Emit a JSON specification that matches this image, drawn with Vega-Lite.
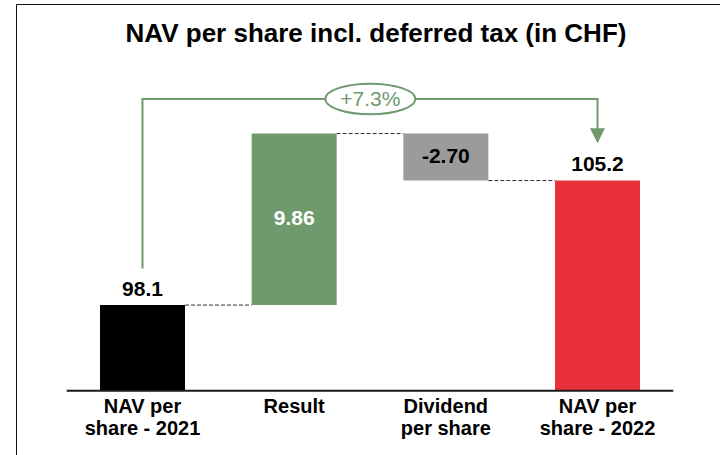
{
  "$schema": "https://vega.github.io/schema/vega-lite/v6.json",
  "width": 704,
  "height": 451,
  "autosize": {"type": "none"},
  "padding": {"left": 16, "top": 4, "right": 0, "bottom": 0},
  "background": "white",
  "title": {
    "text": "NAV per share incl. deferred tax (in CHF)",
    "font": "Liberation Sans",
    "fontSize": 26,
    "fontWeight": "bold",
    "color": "#000000",
    "anchor": "middle",
    "frame": "group",
    "orient": "top",
    "baseline": "alphabetic",
    "offset": -64,
    "dx": 8
  },
  "config": {
    "view": {"stroke": "#111111", "strokeWidth": 1},
    "text": {"font": "Liberation Sans"}
  },
  "datasets": {
    "bars": [
      {"cat": "NAV per share - 2021", "start": 93.18, "end": 98.1, "label": "98.1"},
      {"cat": "Result", "start": 98.1, "end": 107.96, "label": "9.86"},
      {"cat": "Dividend per share", "start": 107.96, "end": 105.26, "label": "-2.70"},
      {"cat": "NAV per share - 2022", "start": 93.18, "end": 105.26, "label": "105.2"}
    ],
    "connectors": [
      {"from": "NAV per share - 2021", "to": "Result", "level": 98.1},
      {"from": "Result", "to": "Dividend per share", "level": 107.96},
      {"from": "Dividend per share", "to": "NAV per share - 2022", "level": 105.26}
    ],
    "baseline": [
      {"a": "NAV per share - 2021", "b": "NAV per share - 2022", "v": 93.18}
    ],
    "bracket": [
      {"cat": "NAV per share - 2021", "v": 100.2, "i": 1},
      {"cat": "NAV per share - 2021", "v": 109.95, "i": 2},
      {"cat": "NAV per share - 2022", "v": 109.95, "i": 3},
      {"cat": "NAV per share - 2022", "v": 108.2, "i": 4}
    ],
    "arrowhead": [
      {"cat": "NAV per share - 2022", "v": 107.83}
    ],
    "growth": [
      {"cat": "Result", "v": 109.95, "label": "+7.3%"}
    ]
  },
  "layer": [
    {
      "data": {"name": "bars"},
      "mark": {"type": "bar"},
      "encoding": {
        "x": {
          "field": "cat",
          "type": "nominal",
          "sort": null,
          "scale": {
            "domain": ["NAV per share - 2021", "Result", "Dividend per share", "NAV per share - 2022"],
            "range": [0, 708],
            "paddingInner": 0.4396,
            "paddingOuter": 0.5538
          },
          "axis": {
            "orient": "bottom",
            "offset": -64.5,
            "title": null,
            "domain": false,
            "ticks": false,
            "grid": false,
            "labelAngle": 0,
            "labelFont": "Liberation Sans",
            "labelFontSize": 20,
            "labelFontWeight": "bold",
            "labelColor": "#000000",
            "labelBaseline": "top",
            "labelPadding": 6,
            "labelLineHeight": 22,
            "labelLimit": 200,
            "labelExpr": "datum.value == 'NAV per share - 2021' ? ['NAV per', 'share - 2021'] : datum.value == 'Dividend per share' ? ['Dividend', 'per share'] : datum.value == 'NAV per share - 2022' ? ['NAV per', 'share - 2022'] : datum.label"
          }
        },
        "y": {
          "field": "start",
          "type": "quantitative",
          "scale": {"domain": [89.48, 115.41], "nice": false, "zero": false},
          "axis": null
        },
        "y2": {"field": "end"},
        "color": {
          "field": "cat",
          "type": "nominal",
          "scale": {
            "domain": ["NAV per share - 2021", "Result", "Dividend per share", "NAV per share - 2022"],
            "range": ["#000000", "#6e9a6e", "#9b9b9b", "#e83038"]
          },
          "legend": null
        }
      }
    },
    {
      "data": {"name": "connectors"},
      "mark": {"type": "rule", "color": "#333333", "strokeWidth": 1, "strokeDash": [4, 2]},
      "encoding": {
        "x": {"field": "from", "type": "nominal", "bandPosition": 1},
        "x2": {"field": "to", "bandPosition": 0},
        "y": {"field": "level", "type": "quantitative"}
      }
    },
    {
      "data": {"name": "baseline"},
      "mark": {"type": "rule", "color": "#1a1a1a", "strokeWidth": 2},
      "encoding": {
        "x": {"field": "a", "type": "nominal", "bandPosition": -0.392},
        "x2": {"field": "b", "bandPosition": 1.392},
        "y": {"field": "v", "type": "quantitative"}
      }
    },
    {
      "data": {"name": "bracket"},
      "mark": {"type": "line", "color": "#6e9a6e", "strokeWidth": 2, "strokeJoin": "miter"},
      "encoding": {
        "x": {"field": "cat", "type": "nominal"},
        "y": {"field": "v", "type": "quantitative"},
        "order": {"field": "i", "type": "quantitative"}
      }
    },
    {
      "data": {"name": "arrowhead"},
      "mark": {"type": "point", "shape": "M-1,-1L1,-1L0,1Z", "filled": true, "color": "#6e9a6e", "opacity": 1, "size": 225},
      "encoding": {
        "x": {"field": "cat", "type": "nominal"},
        "y": {"field": "v", "type": "quantitative"}
      }
    },
    {
      "data": {"name": "growth"},
      "mark": {"type": "point", "shape": "M-1,0A1,0.34,0,1,0,1,0A1,0.34,0,1,0,-1,0Z", "filled": true, "fill": "#ffffff", "stroke": "#6e9a6e", "strokeWidth": 2, "opacity": 1, "size": 8100},
      "encoding": {
        "x": {"field": "cat", "type": "nominal", "bandPosition": 1.396},
        "y": {"field": "v", "type": "quantitative"}
      }
    },
    {
      "data": {"name": "growth"},
      "mark": {"type": "text", "color": "#6e9a6e", "fontSize": 21, "baseline": "middle", "align": "center", "dy": 1},
      "encoding": {
        "x": {"field": "cat", "type": "nominal", "bandPosition": 1.396},
        "y": {"field": "v", "type": "quantitative"},
        "text": {"field": "label"}
      }
    },
    {
      "data": {"name": "bars"},
      "transform": [{"filter": "datum.cat == 'NAV per share - 2021' || datum.cat == 'NAV per share - 2022'"}],
      "mark": {"type": "text", "color": "#000000", "fontSize": 21, "fontWeight": "bold", "baseline": "alphabetic", "align": "center", "dy": -9.5},
      "encoding": {
        "x": {"field": "cat", "type": "nominal"},
        "y": {"field": "end", "type": "quantitative"},
        "text": {"field": "label"}
      }
    },
    {
      "data": {"name": "bars"},
      "transform": [
        {"filter": "datum.cat == 'Result' || datum.cat == 'Dividend per share'"},
        {"calculate": "(datum.start + datum.end) / 2", "as": "mid"}
      ],
      "mark": {"type": "text", "fontSize": 21, "fontWeight": "bold", "baseline": "middle", "align": "center"},
      "encoding": {
        "x": {"field": "cat", "type": "nominal"},
        "y": {"field": "mid", "type": "quantitative"},
        "text": {"field": "label"},
        "color": {"condition": {"test": "datum.cat == 'Result'", "value": "#ffffff"}, "value": "#000000"}
      }
    }
  ]
}
